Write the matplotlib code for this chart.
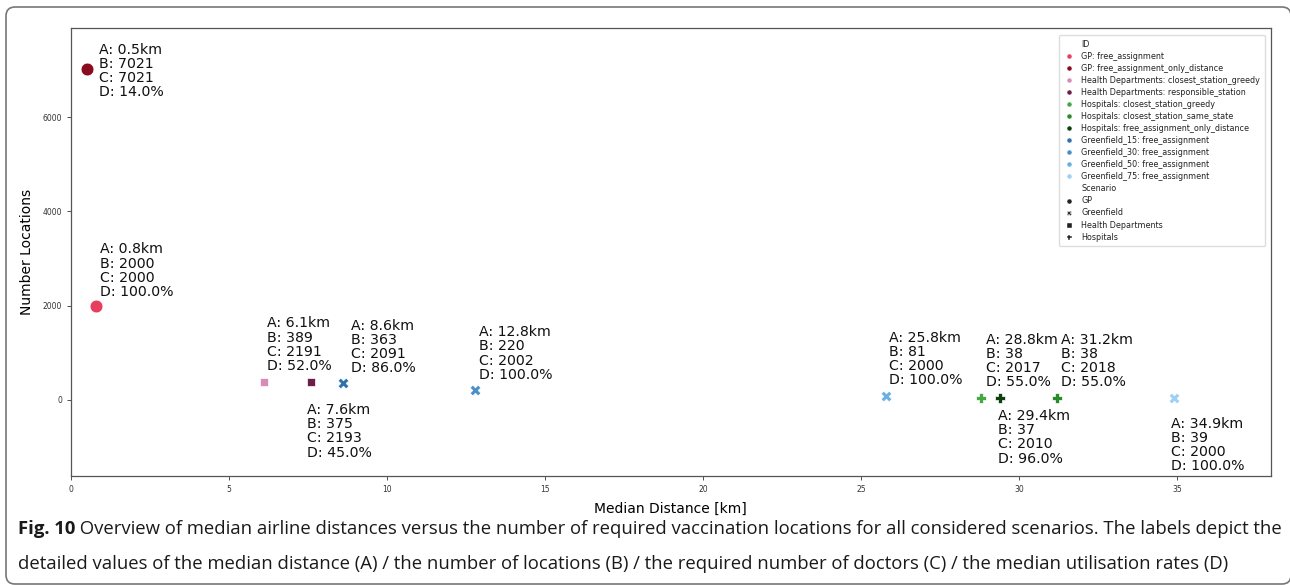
import matplotlib
matplotlib.use("Agg")
import matplotlib.pyplot as plt
from matplotlib.lines import Line2D
from matplotlib.patches import FancyBboxPatch
from matplotlib.transforms import IdentityTransform

# data
ids = ["GP: free_assignment", "GP: free_assignment_only_distance",
       "Health Departments: closest_station_greedy", "Health Departments: responsible_station",
       "Hospitals: closest_station_greedy", "Hospitals: closest_station_same_state",
       "Hospitals: free_assignment_only_distance",
       "Greenfield_15: free_assignment", "Greenfield_30: free_assignment",
       "Greenfield_50: free_assignment", "Greenfield_75: free_assignment"]
scenarios = ["GP", "GP", "Health Departments", "Health Departments",
             "Hospitals", "Hospitals", "Hospitals",
             "Greenfield", "Greenfield", "Greenfield", "Greenfield"]
median_km = [0.8, 0.5, 6.1, 7.6, 28.8, 31.2, 29.4, 8.6, 12.8, 25.8, 34.9]
n_locations = [2000, 7021, 389, 375, 38, 38, 37, 363, 220, 81, 39]
n_doctors = [2000, 7021, 2191, 2193, 2017, 2018, 2010, 2091, 2002, 2000, 2000]
utilisation = [100.0, 14.0, 52.0, 45.0, 55.0, 55.0, 96.0, 86.0, 100.0, 100.0, 100.0]

scenario_order = ["GP", "Greenfield", "Health Departments", "Hospitals"]

# styling
colors = ["#e63e5c", "#8a0a1e", "#d98bb5", "#6b1f46",
          "#45a845", "#2a8a2a", "#0c410c",
          "#2f72ab", "#4a8fc8", "#6aaee2", "#9ed0f5"]
markers = {"GP": "o", "Greenfield": "X", "Health Departments": "s", "Hospitals": "P"}
sizes = {"GP": 85, "Greenfield": 60, "Health Departments": 36, "Hospitals": 60}
# label offsets (pixels) relative to each point
label_offsets = [(4, 35), (12, -2), (3, 37), (-4, -49), (5, 37), (4, 37),
                 (-2, -39), (8, 36), (4, 36), (3, 37), (-3, -47)]

fig = plt.figure(figsize=(12.9, 5.85), dpi=100)
ax = fig.add_axes([0.055, 0.187, 0.930, 0.765])

for i in range(len(ids)):
    sc = scenarios[i]
    ax.scatter(median_km[i], n_locations[i], marker=markers[sc], s=sizes[sc],
               color=colors[i], edgecolors="white", linewidths=0.5, zorder=3)
    label = (f"A: {median_km[i]}km\nB: {n_locations[i]}\n"
             f"C: {n_doctors[i]}\nD: {utilisation[i]:.1f}%")
    ax.annotate(label, (median_km[i], n_locations[i]), xytext=label_offsets[i],
                textcoords="offset pixels", ha="left", va="center",
                fontsize=10.2, linespacing=1.02, color="#111111")

ax.set_xlim(0, 37.96)
ax.set_ylim(-1605, 7890)
ax.set_xticks([0, 5, 10, 15, 20, 25, 30, 35])
ax.set_yticks([0, 2000, 4000, 6000])
ax.tick_params(labelsize=5.5, length=3, width=0.6, colors="#333333")
for sp in ax.spines.values():
    sp.set_color("#555555")
    sp.set_linewidth(0.9)
ax.set_xlabel("Median Distance [km]", fontsize=10, labelpad=6)
ax.set_ylabel("Number Locations", fontsize=10, labelpad=6)

# seaborn-like legend with sub headings
handles, labels = [], []
handles.append(Line2D([], [], linestyle="none"))
labels.append("ID")
for i in range(len(ids)):
    handles.append(Line2D([], [], linestyle="none", marker="o", markersize=3.6,
                          color=colors[i], markeredgecolor="white", markeredgewidth=0.3))
    labels.append(ids[i])
handles.append(Line2D([], [], linestyle="none"))
labels.append("Scenario")
for sc in scenario_order:
    handles.append(Line2D([], [], linestyle="none", marker=markers[sc], markersize=3.6,
                          color="#222222", markeredgecolor="white", markeredgewidth=0.3))
    labels.append(sc)
leg = ax.legend(handles, labels, loc="upper right", fontsize=5.8, handlelength=1.2,
                handletextpad=0.9, labelspacing=0.38, borderpad=0.6,
                bbox_to_anchor=(0.9985, 0.994), framealpha=1, edgecolor="#dddddd")
for t in leg.get_texts():
    t.set_color("#222222")

# outer rounded frame
frame = FancyBboxPatch((6, 1), 1285, 577, boxstyle="round,pad=0,rounding_size=9",
                       transform=IdentityTransform(), fill=False,
                       edgecolor="#777777", linewidth=1.2)
fig.patches.append(frame)

# caption
cap_size = 13.3
t1 = fig.text(18 / 1290, 1 - 534 / 585, "Fig. 10", fontsize=cap_size, fontweight="bold",
              family="Open Sans", color="#1a1a1a", va="baseline")
ax.annotate(" Overview of median airline distances versus the number of required vaccination "
            "locations for all considered scenarios. The labels depict the",
            xy=(1, 0), xycoords=t1, va="bottom", ha="left", fontsize=cap_size,
            family="Open Sans", color="#1a1a1a", annotation_clip=False)
fig.text(18 / 1290, 1 - 569 / 585,
         "detailed values of the median distance (A) / the number of locations (B) / "
         "the required number of doctors (C) / the median utilisation rates (D)",
         fontsize=cap_size, family="Open Sans", color="#1a1a1a", va="baseline")

fig.savefig("out.png", dpi=100)
